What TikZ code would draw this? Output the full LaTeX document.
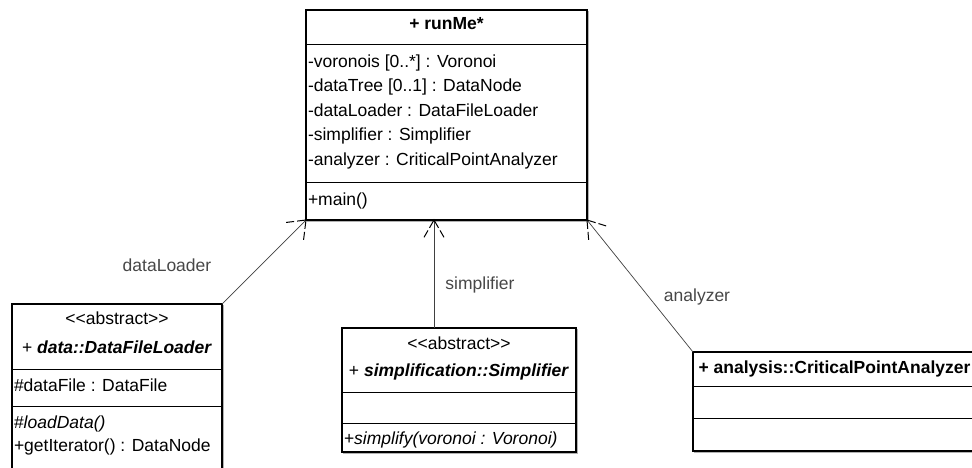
\documentclass[tikz,border=0pt]{standalone}
\usepackage{fontspec}
\setmainfont{Liberation Sans}
\usetikzlibrary{calc}
\newcommand{\stereo}{<\kern0pt<abstract>\kern0pt>}
\begin{document}
\begin{tikzpicture}[x=1pt,y=-1pt,
  every node/.style={font=\fontsize{17.5}{20}\selectfont, inner sep=0pt, outer sep=0pt},
  classbox/.style={draw=black, line width=1.3pt, fill=white, anchor=north west,
    preaction={draw=black!30, line width=1.5pt, transform canvas={shift={(1.5pt,-1.5pt)}}}},
  sep/.style={line width=0.9pt},
  row/.style={anchor=base west},
  ttl/.style={anchor=base, font=\fontsize{17.5}{20}\selectfont\bfseries},
  ctr/.style={anchor=base},
  lbl/.style={anchor=base, text=black!72},
  conn/.style={draw=black!75, line width=0.7pt},
  headstroke/.style={draw=black, line width=1pt, dash pattern=on 9pt off 3pt on 8pt off 0pt}
]
\path[use as bounding box] (0,0) rectangle (972,467);
\clip (0,0) rectangle (972,467);

% ---------- runMe ----------
\node[classbox, minimum width=281pt, minimum height=210pt] (runme) at (306,10) {};
\draw[sep] ($(runme.north west)+(0,34)$) -- ($(runme.north east)+(0,34)$);
\draw[sep] ($(runme.north west)+(0,172)$) -- ($(runme.north east)+(0,172)$);
\node[ttl] (rmt) at (446.5,29) {+ runMe*};
\node[row] (rm1) at (308,67) {-voronois [0..*] : Voronoi};
\node[row] (rm2) at (308,91.5) {-dataTree [0..1] : DataNode};
\node[row] (rm3) at (308,116) {-dataLoader : DataFileLoader};
\node[row] (rm4) at (308,140.5) {-simplifier : Simplifier};
\node[row] (rm5) at (308,165) {-analyzer : CriticalPointAnalyzer};
\node[row] (rm6) at (308,205) {+main()};

% ---------- DataFileLoader ----------
\node[classbox, minimum width=210pt, minimum height=175pt] (loader) at (12,304) {};
\draw[sep] ($(loader.north west)+(0,65)$) -- ($(loader.north east)+(0,65)$);
\draw[sep] ($(loader.north west)+(0,102)$) -- ($(loader.north east)+(0,102)$);
\node[ctr] (ld0) at (117,324) {\stereo};
\node[ctr] (ld1) at (117,353) {+ \textbf{\textit{data::DataFileLoader}}};
\node[row] (ld2) at (14,391) {\#dataFile : DataFile};
\node[row] (ld3) at (14,428) {\#\textit{loadData()}};
\node[row] (ld4) at (14,451) {+getIterator() : DataNode};

% ---------- Simplifier ----------
\node[classbox, minimum width=234pt, minimum height=124pt] (simp) at (342,328) {};
\draw[sep] ($(simp.north west)+(0,64)$) -- ($(simp.north east)+(0,64)$);
\draw[sep] ($(simp.north west)+(0,95)$) -- ($(simp.north east)+(0,95)$);
\node[ctr] (sp0) at (459,349) {\stereo};
\node[ctr] (sp1) at (459,376) {+ \textbf{\textit{simplification::Simplifier}}};
\node[row] (sp2) at (344,444) {+\textit{simplify(voronoi : Voronoi)}};

% ---------- CriticalPointAnalyzer ----------
\node[classbox, minimum width=283pt, minimum height=99pt] (anal) at (693,352) {};
\draw[sep] ($(anal.north west)+(0,34)$) -- ($(anal.north east)+(0,34)$);
\draw[sep] ($(anal.north west)+(0,66)$) -- ($(anal.north east)+(0,66)$);
\node[ttl] (an0) at (834.5,373) {+ analysis::CriticalPointAnalyzer};

% ---------- connectors ----------
\coordinate (simpTop) at (simp.north west -| 434,0);
\coordinate (runBot) at (runme.south west -| 434,0);
\draw[conn] (loader.north east) -- (runme.south west);
\draw[headstroke] (runme.south west) -- ($(runme.south west)!20pt!38:(loader.north east)$);
\draw[headstroke] (runme.south west) -- ($(runme.south west)!20pt!-38:(loader.north east)$);

\draw[conn] (simpTop) -- (runBot);
\draw[headstroke] (runBot) -- ($(runBot)!20pt!30:(simpTop)$);
\draw[headstroke] (runBot) -- ($(runBot)!20pt!-30:(simpTop)$);
\fill (runBot) circle (1.2pt);

\draw[conn] (anal.north west) -- (runme.south east);
\draw[headstroke] (runme.south east) -- ($(runme.south east)!20pt!34:(anal.north west)$);
\draw[headstroke] (runme.south east) -- ($(runme.south east)!20pt!-34:(anal.north west)$);

% ---------- labels ----------
\node[lbl] (l1) at (167,271) {dataLoader};
\node[lbl] (l2) at (480,289) {simplifier};
\node[lbl] (l3) at (697,301) {analyzer};
\end{tikzpicture}
\end{document}
